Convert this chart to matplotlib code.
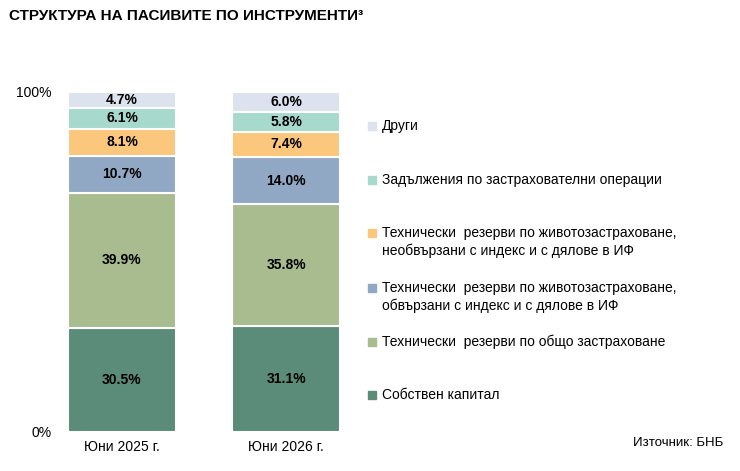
import matplotlib.pyplot as plt
import numpy as np

plt.rcParams['font.family'] = ['Liberation Sans', 'DejaVu Sans']

categories = ["Юни 2025 г.", "Юни 2026 г."]
series = ["Собствен капитал",
          "Технически  резерви по общо застраховане",
          "Технически  резерви по животозастраховане,\nобвързани с индекс и с дялове в ИФ",
          "Технически  резерви по животозастраховане,\nнеобвързани с индекс и с дялове в ИФ",
          "Задължения по застрахователни операции",
          "Други"]
values = [
    [30.5, 31.1],
    [39.9, 35.8],
    [10.7, 14.0],
    [8.1, 7.4],
    [6.1, 5.8],
    [4.7, 6.0],
]
colors = ["#5b8b79", "#a9bc90", "#91a8c4", "#fac77c", "#a8d9cd", "#dce3ee"]

fig = plt.figure(figsize=(7.4, 4.71), dpi=100)
ax = fig.add_axes([0.081, 0.083, 0.392, 0.722])

x = np.arange(len(categories))
bottom = np.zeros(len(categories))
for vals, col in zip(values, colors):
    vals = np.array(vals)
    ax.bar(x, vals, 0.66, bottom=bottom, color=col, edgecolor="white", linewidth=1.5)
    for xi, v, b in zip(x, vals, bottom):
        ax.text(xi, b + v / 2, f"{v:.1f}%", ha="center", va="center",
                fontsize=10, fontweight="bold", color="black")
    bottom += vals

ax.set_xlim(-0.378, 1.39)
ax.set_ylim(0, 100)
ax.set_yticks([0, 100])
ax.set_yticklabels(["0%", "100%"], fontsize=10)
ax.set_xticks(x)
ax.set_xticklabels(categories, fontsize=10)
ax.tick_params(length=0, pad=6)
for s in ax.spines.values():
    s.set_visible(False)

fig.text(0.012, 0.965, "СТРУКТУРА НА ПАСИВИТЕ ПО ИНСТРУМЕНТИ³", fontsize=11,
         fontweight="bold", va="center")

# legend
leg_y = [395, 342, 288, 233, 180, 126]
W, H = 740, 471
for name, col, yp in zip(series, colors, leg_y):
    fig.patches.append(plt.Rectangle((368 / W, 1 - (yp + 4) / H), 8 / W, 8 / H,
                                     transform=fig.transFigure, color=col))
    fig.text(382 / W, 1 - yp / H, name, fontsize=10, va="top" if "\n" in name else "center",
             linespacing=1.3)
    if "\n" in name:
        fig.texts[-1].set_y(1 - (yp - 7) / H)

fig.text(723 / W, 1 - 443 / H, "Източник: БНБ", fontsize=9.5, ha="right", va="center")

fig.savefig("out.png", dpi=100)
